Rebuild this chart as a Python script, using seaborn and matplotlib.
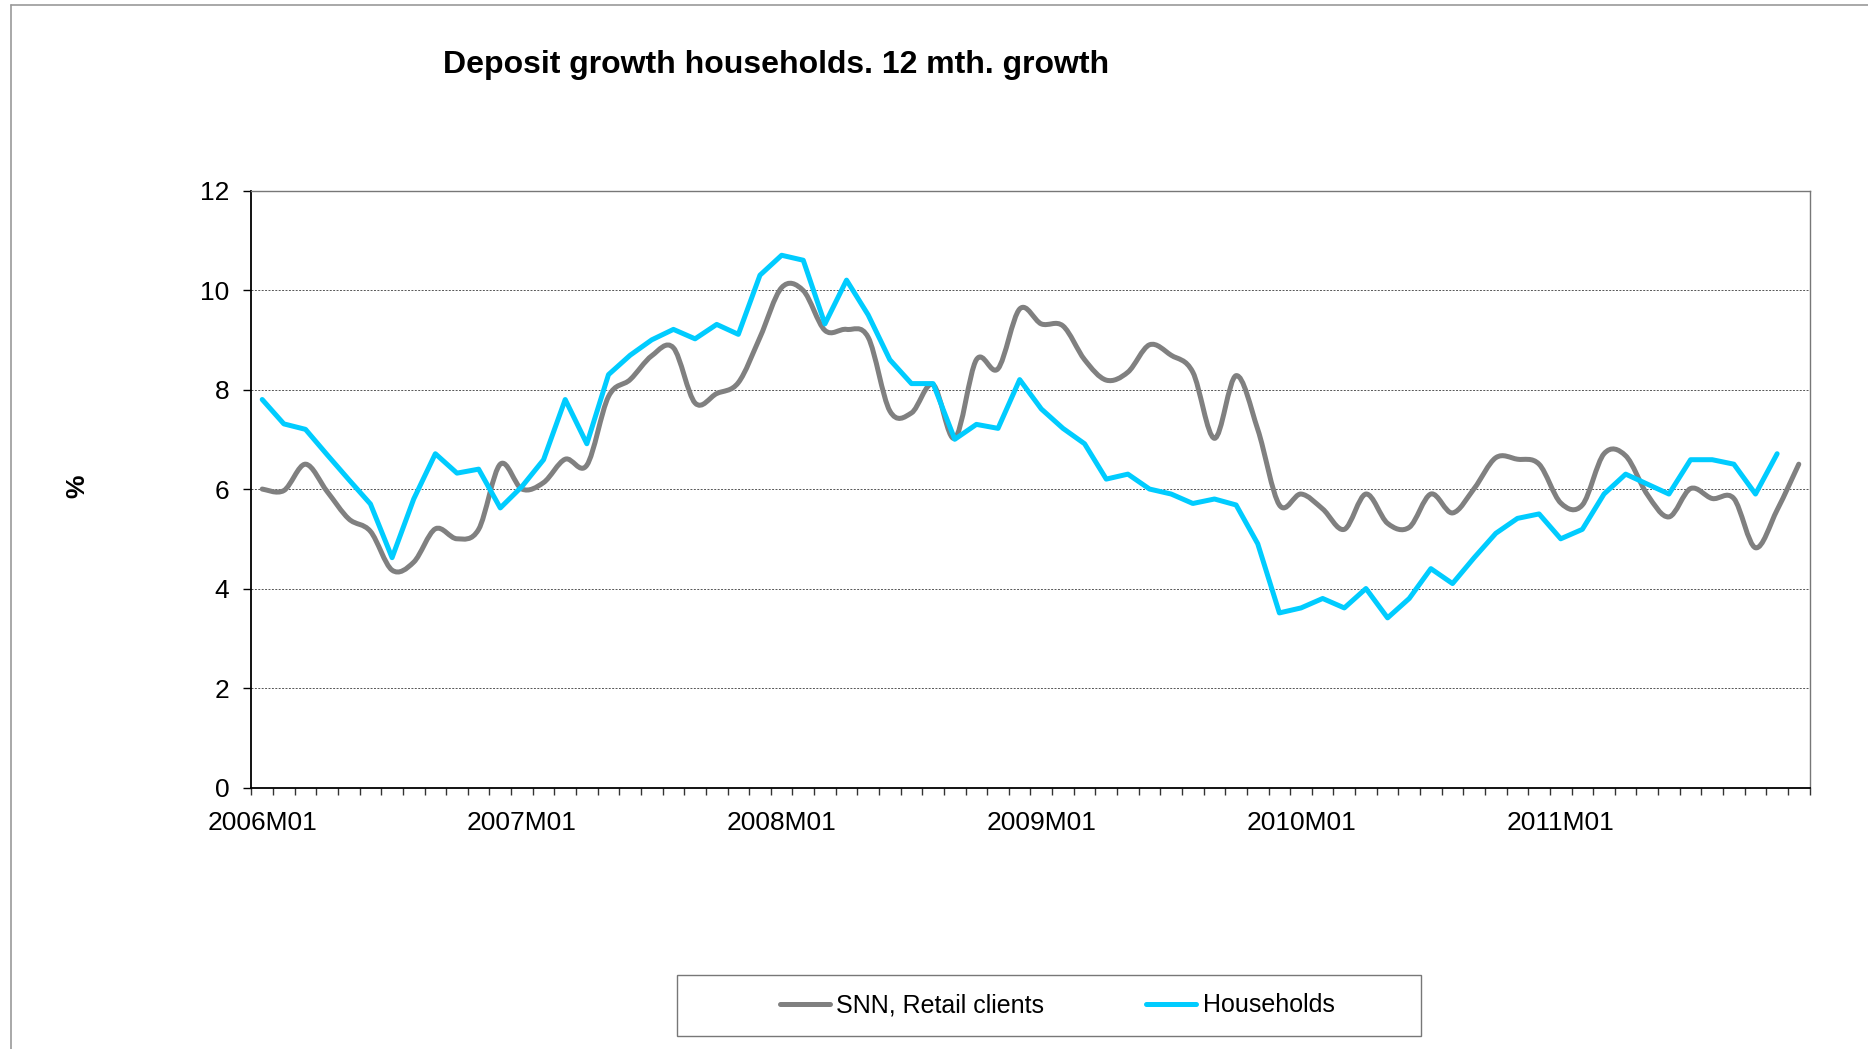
import numpy as np
import pandas as pd
import matplotlib
matplotlib.use("Agg")
import matplotlib.pyplot as plt
import seaborn as sns
from matplotlib.path import Path
from matplotlib.patches import PathPatch, Rectangle
from matplotlib.lines import Line2D

# Monthly periods 2006M01 .. 2011M12
months = [f"{yr}M{m:02d}" for yr in range(2006, 2012) for m in range(1, 13)]

# 12-month deposit growth, %
snn_retail = [
    6.0, 5.97, 6.5, 5.95, 5.4, 5.15, 4.37, 4.53, 5.2, 5.0, 5.19, 6.5,
    6.0, 6.13, 6.6, 6.48, 7.86, 8.2, 8.68, 8.84, 7.73, 7.92, 8.14, 9.05,
    10.05, 9.99, 9.19, 9.21, 9.05, 7.57, 7.53, 8.1, 7.02, 8.6, 8.42, 9.62,
    9.32, 9.28, 8.6, 8.19, 8.35, 8.9, 8.69, 8.35, 7.02, 8.28, 7.2, 5.68,
    5.9, 5.6, 5.19, 5.9, 5.31, 5.23, 5.9, 5.52, 6.01, 6.63, 6.6, 6.5,
    5.72, 5.68, 6.71, 6.67, 5.89, 5.44, 6.01, 5.81, 5.81, 4.82, 5.58, 6.5,
]
households = [
    7.8, 7.31, 7.2, 6.69, 6.19, 5.7, 4.62, 5.8, 6.71, 6.32, 6.4, 5.62,
    6.05, 6.59, 7.8, 6.91, 8.3, 8.69, 9.0, 9.21, 9.02, 9.31, 9.11, 10.3,
    10.7, 10.6, 9.32, 10.2, 9.5, 8.6, 8.12, 8.12, 7.0, 7.3, 7.22, 8.2,
    7.61, 7.22, 6.91, 6.2, 6.3, 6.0, 5.9, 5.71, 5.8, 5.68, 4.9, 3.51,
    3.61, 3.8, 3.61, 4.0, 3.41, 3.8, 4.4, 4.1, 4.62, 5.11, 5.41, 5.5,
    5.0, 5.19, 5.9, 6.3, 6.1, 5.9, 6.59, 6.59, 6.5, 5.9, 6.71, np.nan,
]
series_names = ["SNN, Retail clients", "Households"]
y_ticks = [0, 2, 4, 6, 8, 10, 12]

GRAY = "#808080"
CYAN = "#00CCFF"
LW = 3.6

sns.set_theme(style="white")
plt.rcParams["font.family"] = ["Liberation Sans", "DejaVu Sans"]
plt.rcParams["text.color"] = "black"
plt.rcParams["xtick.color"] = "black"
plt.rcParams["ytick.color"] = "black"
plt.rcParams["xtick.labelcolor"] = "black"
plt.rcParams["ytick.labelcolor"] = "black"

W, H = 1868, 1049
fig = plt.figure(figsize=(W / 100, H / 100), dpi=100)
ax = fig.add_axes([251.4 / W, 1 - 787.5 / H, (1809.6 - 251.4) / W, (787.5 - 190.6) / H])

pos = np.arange(len(months))
df = pd.DataFrame({"pos": pos, "month": months,
                   "snn": snn_retail, "households": households})


def smooth_path(x, y):
    """Cubic Bezier through the points (Catmull-Rom style tangents)."""
    pts = np.column_stack([x, y]).astype(float)
    n = len(pts)
    verts = [pts[0]]
    codes = [Path.MOVETO]
    for i in range(n - 1):
        p0 = pts[i - 1] if i > 0 else pts[i]
        p1, p2 = pts[i], pts[i + 1]
        p3 = pts[i + 2] if i + 2 < n else pts[i + 1]
        verts += [p1 + (p2 - p0) / 6.0, p2 - (p3 - p1) / 6.0, p2]
        codes += [Path.CURVE4] * 3
    return Path(verts, codes)


# SNN retail clients: smoothed grey curve
ax.add_patch(PathPatch(smooth_path(df["pos"], df["snn"]), facecolor="none",
                       edgecolor=GRAY, lw=LW, capstyle="round",
                       joinstyle="round", zorder=3))

# Households: straight segments
sns.lineplot(data=df.dropna(subset=["households"]), x="pos", y="households",
             ax=ax, color=CYAN, lw=LW, legend=False, zorder=4,
             solid_joinstyle="round", solid_capstyle="round")

ax.set_xlim(-0.5, len(months) - 0.5)
ax.set_ylim(0, 12)
ax.set_xlabel("")
ax.set_ylabel("")

# Category axis: labels on January of each year, ticks on month boundaries
major = pos[::12]
ax.set_xticks(major)
ax.set_xticklabels([months[i] for i in major])
ax.set_xticks(np.arange(-0.5, len(months)), minor=True)
ax.tick_params(axis="x", which="major", length=0, pad=17, labelsize=19,
               labelcolor="black")
ax.tick_params(axis="x", which="minor", length=5, width=1, color="#333333",
               direction="out", bottom=True)

ax.set_yticks(y_ticks)
ax.tick_params(axis="y", which="major", length=6, width=1, color="black",
               direction="out", left=True, pad=10, labelsize=19,
               labelcolor="black")

ax.yaxis.grid(True, linestyle=(0, (2, 1.5)), color="#555555", lw=0.7)
ax.xaxis.grid(False)
ax.set_axisbelow(True)

for side in ["left", "bottom"]:
    ax.spines[side].set_color("black")
    ax.spines[side].set_linewidth(1.3)
for side in ["top", "right"]:
    ax.spines[side].set_color("#777777")
    ax.spines[side].set_linewidth(1.0)
    ax.spines[side].set_visible(True)

# Title and axis label
fig.text(443 / W, 1 - 65 / H, "Deposit growth households. 12 mth. growth",
         ha="left", va="center", fontsize=23, fontweight="bold",
         color="black")
fig.text(77 / W, 1 - 486 / H, "%", ha="center", va="center",
         fontsize=19, fontweight="bold", rotation=90, color="black")

# Legend with its own box
handles = [Line2D([], [], color=GRAY, lw=LW, solid_capstyle="round"),
           Line2D([], [], color=CYAN, lw=LW, solid_capstyle="round")]
leg = fig.legend(handles, series_names, loc="center",
                 bbox_to_anchor=(1057 / W, 1 - 1005.5 / H), ncol=2,
                 frameon=False, fontsize=18, handlelength=2.0,
                 handletextpad=0.25, columnspacing=4.1)
for t in leg.get_texts():
    t.set_color("black")
fig.add_artist(Rectangle((677 / W, 1 - 1036 / H), (1421 - 677) / W,
                         (1036 - 975) / H, transform=fig.transFigure,
                         facecolor="none", edgecolor="#777777", lw=1.0))

# Outer chart-area border (top and left edges)
fig.add_artist(Line2D([11 / W, 1.0], [1 - 5 / H, 1 - 5 / H],
                      transform=fig.transFigure, color="#999999", lw=1.2))
fig.add_artist(Line2D([11 / W, 11 / W], [0.0, 1 - 5 / H],
                      transform=fig.transFigure, color="#999999", lw=1.2))

fig.savefig("out.png", dpi=100, facecolor="white")
